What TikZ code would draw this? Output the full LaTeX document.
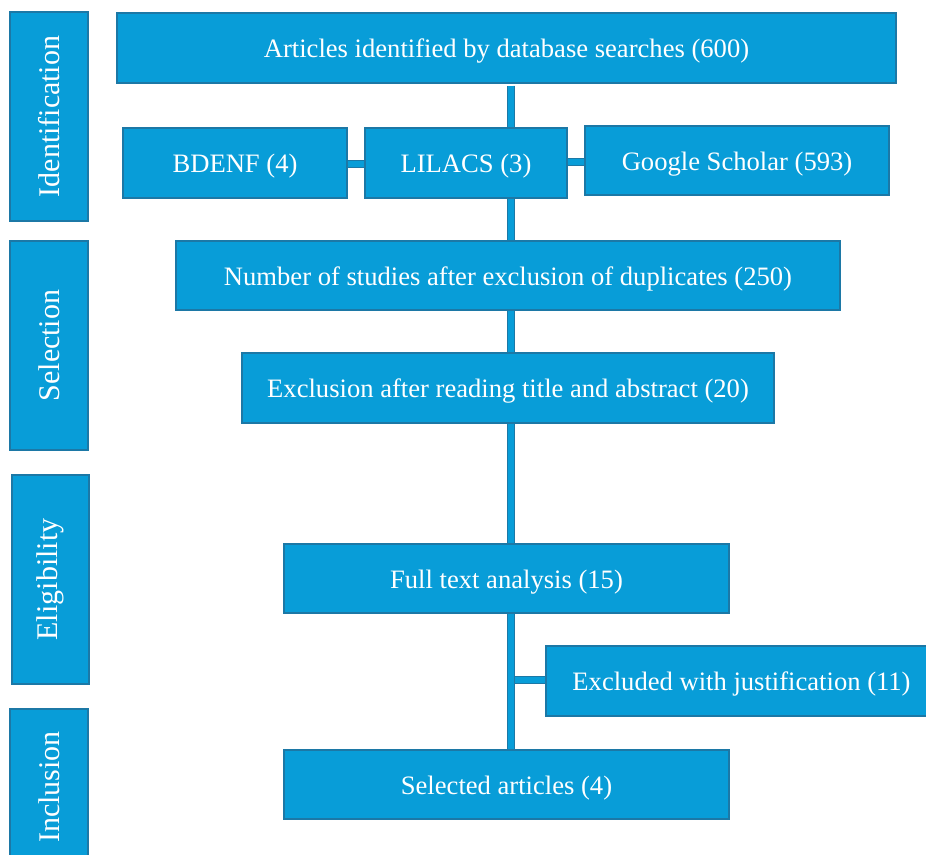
\documentclass[tikz,border=0pt]{standalone}
\usepackage{fontspec}
\setmainfont{Liberation Serif}
\definecolor{boxfill}{HTML}{089DD8}
\definecolor{boxline}{HTML}{1C78A6}
\begin{document}
\begin{tikzpicture}[x=1pt,y=-1pt,
  box/.style={draw=boxline, line width=1.3pt, fill=boxfill, text=white, inner sep=0pt,
    font=\fontsize{26.6}{30}\selectfont},
  mainbox/.style={box, text height=19pt, text depth=0pt},
  sidebox/.style={box, rotate=90, font=\fontsize{30}{34}\selectfont},
  bar/.style={draw=boxline, line width=1pt, double=boxfill, double distance=6pt}]
\useasboundingbox (0,0) rectangle (926,854);
\clip (0,0) rectangle (926,854);
% side labels
\node[sidebox, minimum width=209pt, minimum height=78pt] (ident) at (49,116.5) {Identification};
\node[sidebox, minimum width=209pt, minimum height=78pt] (sel) at (49,345.5) {Selection};
\node[sidebox, minimum width=209pt, minimum height=77pt] (elig) at (50.5,579.5) {Eligibility};
\node[sidebox, minimum width=156pt, minimum height=78pt] (incl) at (49,787) {Inclusion};
% main boxes
\node[mainbox, minimum width=779pt, minimum height=70pt] (art) at (506.5,48) {Articles identified by database searches (600)};
\node[mainbox, minimum width=224pt, minimum height=70pt] (bdenf) at (235,163) {BDENF (4)};
\node[mainbox, minimum width=202pt, minimum height=70pt] (lilacs) at (466,163) {LILACS (3)};
\node[mainbox, minimum width=304pt, minimum height=69pt] (google) at (737,160.5) {Google Scholar (593)};
\node[mainbox, minimum width=664pt, minimum height=69pt] (num) at (508,275.5) {Number of studies after exclusion of duplicates (250)};
\node[mainbox, minimum width=532pt, minimum height=70pt] (excl) at (508,388) {Exclusion after reading title and abstract (20)};
\node[mainbox, minimum width=445pt, minimum height=69pt] (full) at (506.5,578.5) {Full text analysis (15)};
\node[mainbox, minimum width=391pt, minimum height=70pt] (just) at (741.5,681) {Excluded with justification (11)};
\node[mainbox, minimum width=445pt, minimum height=69pt] (selart) at (506.5,784.5) {Selected articles (4)};
% connectors
\coordinate (spine) at (510.5,0);
\coordinate (branch) at (510.5,680);
\draw[bar] (bdenf.east |- 0,164) -- (lilacs.west |- 0,164);
\draw[bar] (lilacs.east |- 0,162) -- (google.west |- 0,162);
\draw[bar] (branch) -- (just.west |- branch);
\draw[bar] (art.south -| spine) ++(0,2) -- (lilacs.north -| spine);
\draw[bar] (lilacs.south -| spine) -- (num.north -| spine);
\draw[bar] (num.south -| spine) -- (excl.north -| spine);
\draw[bar] (excl.south -| spine) -- (full.north -| spine);
\draw[bar] (full.south -| spine) -- (selart.north -| spine);
\end{tikzpicture}
\end{document}
